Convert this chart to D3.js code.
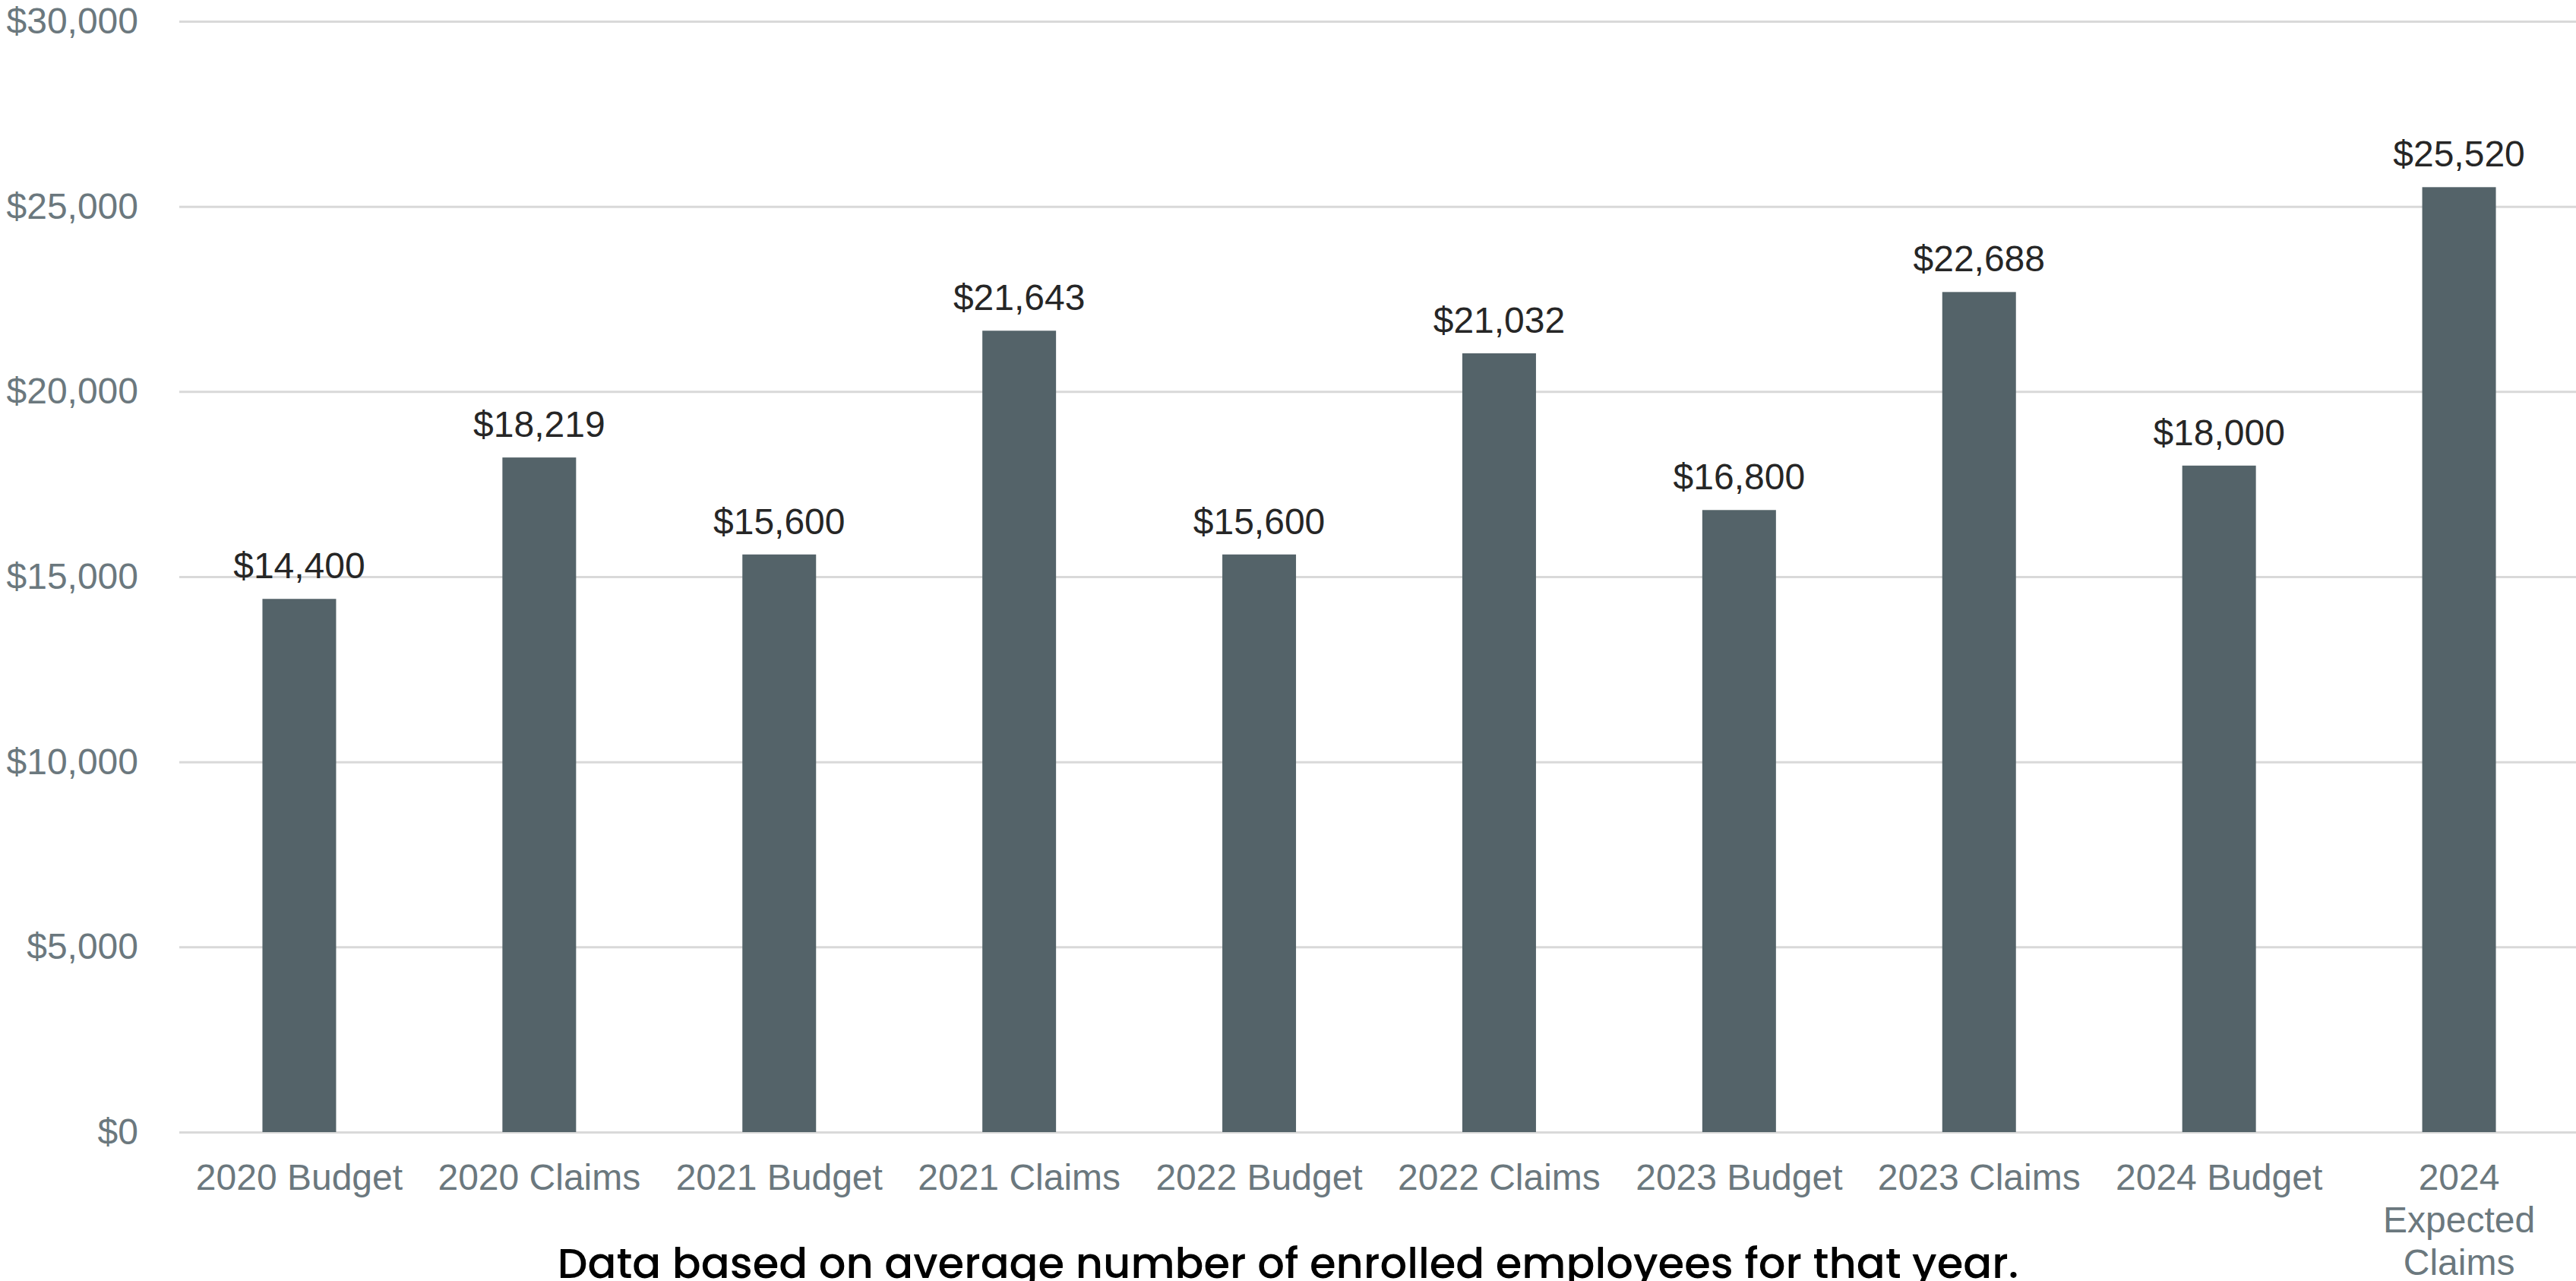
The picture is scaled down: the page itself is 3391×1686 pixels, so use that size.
<!DOCTYPE html>
<html>
<head>
<meta charset="utf-8">
<script src="https://d3js.org/d3.v7.min.js"></script>
<style>
  html, body { margin: 0; padding: 0; background: #fff; }
  svg { display: block; }
</style>
</head>
<body>
<div id="chart"></div>
<script>
// chart data
const categories = ["2020 Budget", "2020 Claims", "2021 Budget", "2021 Claims", "2022 Budget",
                    "2022 Claims", "2023 Budget", "2023 Claims", "2024 Budget", "2024 Expected Claims"];
const values = [14400, 18219, 15600, 21643, 15600, 21032, 16800, 22688, 18000, 25520];
const yTicks = [0, 5000, 10000, 15000, 20000, 25000, 30000];
const footnote = "Data based on average number of enrolled employees for that year.";

const W = 3391, H = 1686;
const margin = { top: 28, right: -4, bottom: 196, left: 236 };
const width = W - margin.left - margin.right;
const height = H - margin.top - margin.bottom;

const svg = d3.select("#chart").append("svg")
    .attr("width", W)
    .attr("height", H);

const g = svg.append("g")
    .attr("transform", `translate(${margin.left},${margin.top})`);

const x = d3.scaleBand()
    .domain(categories)
    .range([0, width])
    .padding(0);

const y = d3.scaleLinear()
    .domain([0, 30000])
    .range([height, 0]);

const fmt = d3.format("$,.0f");
const barW = x.step() * 0.307;

// gridlines + y labels
const yAxis = g.append("g")
    .call(d3.axisLeft(y).tickValues(yTicks).tickFormat(fmt).tickSize(0).tickPadding(54));
yAxis.select(".domain").remove();
yAxis.selectAll("text")
    .style("font-family", "'Liberation Sans', Arial, sans-serif")
    .style("font-size", "48px")
    .attr("fill", "#6b787e");
yAxis.selectAll(".tick").append("line")
    .attr("x1", 0)
    .attr("x2", W - margin.left)
    .attr("stroke", "#d9d9d9")
    .attr("stroke-width", 3);

// bars
g.selectAll(".bar")
    .data(values)
    .enter().append("rect")
    .attr("class", "bar")
    .attr("x", (d, i) => x(categories[i]) + x.bandwidth() / 2 - barW / 2)
    .attr("y", d => y(d))
    .attr("width", barW)
    .attr("height", d => y(0) - y(d))
    .attr("fill", "#546369");

// value labels
g.selectAll(".val")
    .data(values)
    .enter().append("text")
    .attr("class", "val")
    .attr("x", (d, i) => x(categories[i]) + x.bandwidth() / 2)
    .attr("y", d => y(d) - 27)
    .attr("text-anchor", "middle")
    .style("font-family", "'Liberation Sans', Arial, sans-serif")
    .style("font-size", "48px")
    .attr("fill", "#262626")
    .text(d => fmt(d));

// x axis labels
const xAxis = g.append("g")
    .attr("transform", `translate(0,${height})`)
    .call(d3.axisBottom(x).tickSize(0).tickPadding(0));
xAxis.select(".domain").remove();
xAxis.selectAll("text")
    .style("font-family", "'Liberation Sans', Arial, sans-serif")
    .style("font-size", "48px")
    .attr("fill", "#6b787e")
    .attr("dy", null)
    .attr("y", 76)
    .call(wrap, 300);

function wrap(texts, maxW) {
    texts.each(function() {
        const text = d3.select(this);
        const words = text.text().split(/\s+/);
        const yy = text.attr("y");
        text.text(null);
        let line = [];
        let lineNo = 0;
        let tspan = text.append("tspan").attr("x", 0).attr("y", yy);
        words.forEach(w => {
            line.push(w);
            tspan.text(line.join(" "));
            if (tspan.node().getComputedTextLength() > maxW && line.length > 1) {
                line.pop();
                tspan.text(line.join(" "));
                line = [w];
                lineNo++;
                tspan = text.append("tspan").attr("x", 0).attr("y", +yy + lineNo * 56).text(w);
            }
        });
    });
}

// footnote
svg.append("text")
    .attr("x", W / 2)
    .attr("y", 1682)
    .attr("text-anchor", "middle")
    .style("font-family", "Poppins, 'Century Gothic', Lato, sans-serif")
    .style("font-size", "56px")
    .style("font-weight", 500)
    .attr("fill", "#000")
    .text(footnote);
</script>
</body>
</html>
